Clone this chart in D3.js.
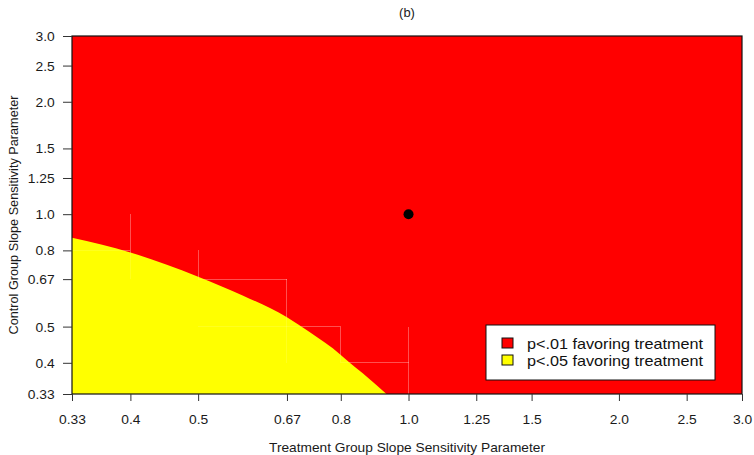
<!DOCTYPE html>
<html lang="en">
<head>
<meta charset="UTF-8">
<title>(b) Slope sensitivity</title>
<script src="https://d3js.org/d3.v7.min.js"></script>
<style>
html, body { margin: 0; padding: 0; background: white; }
body { font-family: 'Liberation Sans', Arial, sans-serif; }
.axis text { font-family: 'Liberation Sans', Arial, sans-serif; font-size: 12.8px; fill: #1a1a1a; }
.axis line { stroke: #333; }
.axis path { display: none; }
.title-text { font-size: 12.7px; fill: #1a1a1a; }
.legend-text { font-size: 15px; fill: #111; }
</style>
</head>
<body>
<div id="chart"></div>
<script>

// --------------------------------------
// Data
// --------------------------------------

const tickValues = [0.33, 0.4, 0.5, 0.67, 0.8, 1.0, 1.25, 1.5, 2.0, 2.5, 3.0];
const tickLabels = ["0.33", "0.4", "0.5", "0.67", "0.8", "1.0", "1.25", "1.5", "2.0", "2.5", "3.0"];

// edge of the p<.05 region (treatment x, control y)
const edgeX = [0.33, 0.40, 0.50, 0.58, 0.67, 0.72, 0.80, 0.82, 0.86, 0.93];
const edgeY = [0.865, 0.79, 0.68, 0.605, 0.53, 0.485, 0.42, 0.403, 0.375, 0.33];

// faint cell seams left by the fill, [x1, y1, x2, y2]
const seams = [
  [0.4, 0.67, 0.4, 1.0],
  [0.33, 0.8, 0.4, 0.8],
  [0.5, 0.67, 0.5, 0.8],
  [0.5, 0.67, 0.67, 0.67],
  [0.67, 0.4, 0.67, 0.67],
  [0.5, 0.5, 0.8, 0.5],
  [0.8, 0.4, 0.8, 0.5],
  [0.8, 0.4, 1.0, 0.4],
  [1.0, 0.33, 1.0, 0.5]
];

const pointX = [1.0];
const pointY = [1.0];

const legendLabels = ["p<.01 favoring treatment", "p<.05 favoring treatment"];
const legendColors = ["#ff0000", "#ffff00"];

// --------------------------------------
// Size and scales
// --------------------------------------

const totalWidth = 754, totalHeight = 455;
const margin = {top: 36, right: 12, bottom: 61, left: 72};
const stretch = "scale(1.08,1)";

const svg = d3.select("#chart").append("svg")
  .attr("width", totalWidth)
  .attr("height", totalHeight);

const x = d3.scaleLog()
  .domain([0.33, 3])
  .range([margin.left, totalWidth - margin.right]);

const y = d3.scaleLog()
  .domain([0.33, 3])
  .range([totalHeight - margin.bottom, margin.top]);

// --------------------------------------
// Regions
// --------------------------------------

svg.append("rect")
  .attr("x", x(0.33))
  .attr("y", y(3))
  .attr("width", x(3) - x(0.33))
  .attr("height", y(0.33) - y(3))
  .attr("fill", legendColors[0]);

svg.selectAll(".seam")
  .data(seams)
  .join("line")
  .attr("class", "seam")
  .attr("x1", d => x(d[0]))
  .attr("y1", d => y(d[1]))
  .attr("x2", d => x(d[2]))
  .attr("y2", d => y(d[3]))
  .attr("stroke", "white")
  .attr("stroke-opacity", 0.22)
  .attr("stroke-width", 1)
  .attr("shape-rendering", "crispEdges");

// yellow region, drawn over the seams so they stay faint there
const edgeLine = d3.line()
  .x(d => x(d[0]))
  .y(d => y(d[1]))
  .curve(d3.curveMonotoneX);

const edgePts = edgeX.map((d, i) => [d, edgeY[i]]);
svg.append("path")
  .attr("d", edgeLine(edgePts) + `L${x(0.33)},${y(0.33)}Z`)
  .attr("fill", legendColors[1]);

svg.selectAll(".seam-y")
  .data(seams)
  .join("line")
  .attr("class", "seam-y")
  .attr("x1", d => x(d[0]))
  .attr("y1", d => y(d[1]))
  .attr("x2", d => x(d[2]))
  .attr("y2", d => y(d[3]))
  .attr("stroke", "white")
  .attr("stroke-opacity", 0.12)
  .attr("stroke-width", 1)
  .attr("shape-rendering", "crispEdges");

svg.selectAll(".pt")
  .data(pointX)
  .join("circle")
  .attr("class", "pt")
  .attr("cx", d => x(d))
  .attr("cy", (d, i) => y(pointY[i]))
  .attr("r", 5)
  .attr("fill", "black");

// frame
svg.append("rect")
  .attr("x", x(0.33))
  .attr("y", y(3))
  .attr("width", x(3) - x(0.33))
  .attr("height", y(0.33) - y(3))
  .attr("fill", "none")
  .attr("stroke", "#111")
  .attr("stroke-width", 1.2);

// --------------------------------------
// Axes
// --------------------------------------

const xAxis = svg.append("g")
  .attr("class", "axis")
  .attr("transform", `translate(0, ${y(0.33)})`)
  .call(d3.axisBottom(x)
    .tickValues(tickValues)
    .tickFormat((d, i) => tickLabels[i])
    .tickSize(7)
    .tickPadding(14));
xAxis.selectAll("text").attr("transform", stretch);

const yAxis = svg.append("g")
  .attr("class", "axis")
  .attr("transform", `translate(${x(0.33)}, 0)`)
  .call(d3.axisLeft(y)
    .tickValues(tickValues)
    .tickFormat((d, i) => tickLabels[i])
    .tickSize(9)
    .tickPadding(7));
yAxis.selectAll("text").attr("transform", stretch).attr("dy", "0.35em");

// --------------------------------------
// Titles
// --------------------------------------

const midX = (x(0.33) + x(3)) / 2;
const midY = (y(0.33) + y(3)) / 2;

svg.append("text")
  .attr("class", "title-text")
  .attr("transform", `translate(${midX}, 17) ${stretch}`)
  .attr("text-anchor", "middle")
  .style("font-size", "12px")
  .text("(b)");

svg.append("text")
  .attr("class", "title-text")
  .attr("transform", `translate(${midX}, 452) ${stretch}`)
  .attr("text-anchor", "middle")
  .text("Treatment Group Slope Sensitivity Parameter");

svg.append("text")
  .attr("class", "title-text")
  .attr("transform", `translate(18, ${midY}) rotate(-90)`)
  .attr("text-anchor", "middle")
  .text("Control Group Slope Sensitivity Parameter");

// --------------------------------------
// Legend
// --------------------------------------

const legend = svg.append("g")
  .attr("transform", "translate(486, 325)");

legend.append("rect")
  .attr("width", 229)
  .attr("height", 55)
  .attr("fill", "white")
  .attr("stroke", "#111")
  .attr("stroke-width", 1);

const items = legend.selectAll(".item")
  .data(legendLabels)
  .join("g")
  .attr("class", "item")
  .attr("transform", (d, i) => `translate(0, ${13 + i * 17})`);

items.append("rect")
  .attr("x", 16)
  .attr("y", 0)
  .attr("width", 11)
  .attr("height", 10)
  .attr("fill", (d, i) => legendColors[i])
  .attr("stroke", "#111")
  .attr("stroke-width", 1);

items.append("text")
  .attr("class", "legend-text")
  .attr("transform", `translate(41, 10.5) ${stretch}`)
  .text(d => d);

</script>
</body>
</html>
